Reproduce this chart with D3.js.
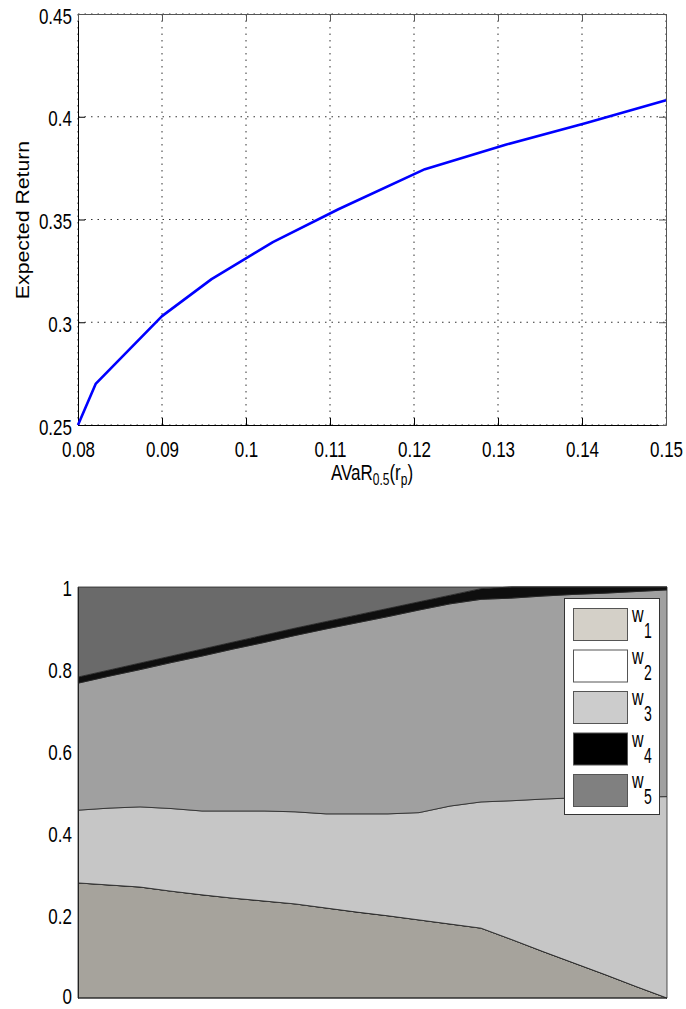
<!DOCTYPE html>
<html>
<head>
<meta charset="utf-8">
<script src="https://cdn.jsdelivr.net/npm/d3@7"></script>
<style>
body { margin: 0; background: #fff; }
text { font-family: "Liberation Sans", Arial, sans-serif; fill: #000; }
</style>
</head>
<body>
<script>

// efficient frontier
var avar   = [0.08, 0.0821, 0.09, 0.0959, 0.1032, 0.111, 0.1213, 0.131, 0.1405, 0.15];
var expRet = [0.25, 0.270, 0.303, 0.321, 0.339, 0.355, 0.3745, 0.3865, 0.397, 0.408];
var xTicks = [0.08, 0.09, 0.1, 0.11, 0.12, 0.13, 0.14, 0.15];
var yTicks = [0.25, 0.3, 0.35, 0.4, 0.45];

// portfolio weights along the frontier (stacked bottom -> top)
var port = [1, 2, 3, 4, 5, 6, 7, 8, 9, 10, 11, 12, 13, 14, 15, 16, 17, 18, 19, 20];
var w1 = [0.280, 0.275, 0.270, 0.260, 0.251, 0.243, 0.236, 0.229, 0.219, 0.209, 0.200, 0.190, 0.180, 0.170, 0.142, 0.113, 0.085, 0.057, 0.028, 0.000];
var w2 = [0, 0, 0, 0, 0, 0, 0, 0, 0, 0, 0, 0, 0, 0, 0, 0, 0, 0, 0, 0];
var w3 = [0.177, 0.187, 0.195, 0.201, 0.204, 0.212, 0.219, 0.224, 0.229, 0.239, 0.248, 0.261, 0.287, 0.307, 0.338, 0.371, 0.402, 0.431, 0.461, 0.490];
var w6 = [0.309, 0.321, 0.334, 0.355, 0.377, 0.394, 0.410, 0.429, 0.450, 0.465, 0.480, 0.493, 0.492, 0.493, 0.493, 0.494, 0.495, 0.497, 0.500, 0.503];
var w4 = [0.015, 0.015, 0.016, 0.016, 0.017, 0.017, 0.018, 0.018, 0.018, 0.019, 0.020, 0.020, 0.021, 0.026, 0.027, 0.022, 0.018, 0.015, 0.011, 0.007];
var w5 = [0.219, 0.202, 0.185, 0.168, 0.151, 0.134, 0.117, 0.100, 0.084, 0.068, 0.052, 0.036, 0.020, 0.004, 0, 0, 0, 0, 0, 0];
var wTicks = [0, 0.2, 0.4, 0.6, 0.8, 1];

var layerKeys   = ["w1", "w2", "w3", "w6", "w4", "w5"];
var layerColors = ["#a6a39c", "#ffffff", "#c6c6c6", "#a0a0a0", "#0e0e0e", "#6a6a6a"];

var legendNums   = ["1", "2", "3", "4", "5"];
var legendColors = ["#d4d0c8", "#ffffff", "#cccccc", "#000000", "#808080"];

var W = 686, H = 1009;
var sy = 1.35;   // text in the picture is stretched vertically
var fmt = function(d) { return String(+d.toFixed(2)); };

var svg = d3.select("body").append("svg")
	.attr("width", W)
	.attr("height", H);
svg.append("rect").attr("width", W).attr("height", H).attr("fill", "#fff");

// ---------- top chart ----------
var x = d3.scaleLinear().domain([0.08, 0.15]).range([78, 666]);
var y = d3.scaleLinear().domain([0.25, 0.45]).range([425, 14]);

var chartA = svg.append("g");

chartA.selectAll(".gx").data(xTicks).enter().append("line")
	.attr("x1", function(d) { return x(d); })
	.attr("x2", function(d) { return x(d); })
	.attr("y1", y(0.25)).attr("y2", y(0.45))
	.attr("stroke", "#333").attr("stroke-dasharray", "1.5,5");
chartA.selectAll(".gy").data(yTicks).enter().append("line")
	.attr("y1", function(d) { return y(d); })
	.attr("y2", function(d) { return y(d); })
	.attr("x1", x(0.08)).attr("x2", x(0.15))
	.attr("stroke", "#333").attr("stroke-dasharray", "1.5,5");

var gxB = chartA.append("g").attr("transform", "translate(0," + y(0.25) + ")")
	.call(d3.axisBottom(x).tickValues(xTicks).tickSizeInner(-7).tickSizeOuter(0).tickFormat(fmt));
var gyL = chartA.append("g").attr("transform", "translate(" + x(0.08) + ",0)")
	.call(d3.axisLeft(y).tickValues(yTicks).tickSizeInner(-7).tickSizeOuter(0).tickFormat(fmt));
chartA.append("g").attr("transform", "translate(0," + y(0.45) + ")")
	.call(d3.axisTop(x).tickValues(xTicks).tickSizeInner(-7).tickSizeOuter(0).tickFormat(""))
	.attr("color", "#555");
chartA.append("g").attr("transform", "translate(" + x(0.15) + ",0)")
	.call(d3.axisRight(y).tickValues(yTicks).tickSizeInner(-7).tickSizeOuter(0).tickFormat(""))
	.attr("color", "#555");

gxB.attr("color", "#000").attr("font-size", 17).attr("font-family", null);
gxB.selectAll(".tick text").attr("y", null).attr("dy", null)
	.attr("transform", "translate(0,32) scale(1," + sy + ")");
gyL.attr("color", "#000").attr("font-size", 17).attr("font-family", null);
gyL.selectAll(".tick text").attr("x", null).attr("dy", null)
	.attr("transform", "translate(-6,9) scale(1," + sy + ")");

var line = d3.line()
	.x(function(d, i) { return x(avar[i]); })
	.y(function(d) { return y(d); });
chartA.append("path").datum(expRet)
	.attr("d", line)
	.attr("fill", "none")
	.attr("stroke", "#0000ff")
	.attr("stroke-width", 2.6)
	.attr("stroke-linejoin", "round");

chartA.append("text")
	.attr("transform", "translate(29,220) scale(1,1.12) rotate(-90)")
	.attr("text-anchor", "middle")
	.attr("font-size", 19)
	.text("Expected Return");

var xl = chartA.append("text")
	.attr("transform", "translate(372,480) scale(1," + sy + ")")
	.attr("text-anchor", "middle")
	.attr("font-size", 17);
xl.append("tspan").text("AVaR");
xl.append("tspan").attr("font-size", 12).attr("dy", 4).text("0.5");
xl.append("tspan").attr("dy", -4).text("(r");
xl.append("tspan").attr("font-size", 12).attr("dy", 4).text("p");
xl.append("tspan").attr("dy", -4).text(")");

// ---------- bottom chart ----------
var xb = d3.scaleLinear().domain([1, 20]).range([78, 667]);
var yb = d3.scaleLinear().domain([0, 1]).range([998, 587]);

var weights = { w1: w1, w2: w2, w3: w3, w4: w4, w5: w5, w6: w6 };
var rows = port.map(function(p, i) {
	var r = { port: p };
	layerKeys.forEach(function(k) { r[k] = weights[k][i]; });
	return r;
});
var layers = d3.stack().keys(layerKeys)(rows);

var area = d3.area()
	.x(function(d) { return xb(d.data.port); })
	.y0(function(d) { return yb(d[0]); })
	.y1(function(d) { return yb(d[1]); });

var chartB = svg.append("g");
chartB.selectAll("path.layer").data(layers).enter().append("path")
	.attr("class", "layer")
	.attr("d", area)
	.attr("fill", function(d, i) { return layerColors[i]; })
	.attr("stroke", "#262626")
	.attr("stroke-width", 0.8);

var gyB = chartB.append("g").attr("transform", "translate(" + xb(1) + ",0)")
	.call(d3.axisLeft(yb).tickValues(wTicks).tickSize(0).tickFormat(fmt));
gyB.attr("color", "#222").attr("font-size", 17).attr("font-family", null);
gyB.selectAll(".tick text").attr("x", null).attr("dy", null).attr("fill", "#000")
	.attr("transform", function(d) { return "translate(-6," + (d === 0 ? 5 : 8) + ") scale(1," + sy + ")"; });
chartB.append("line")
	.attr("x1", xb(1)).attr("x2", xb(20))
	.attr("y1", yb(0)).attr("y2", yb(0))
	.attr("stroke", "#222");

// legend
var leg = chartB.append("g");
leg.append("rect")
	.attr("x", 564.5).attr("y", 598.5).attr("width", 95).attr("height", 216)
	.attr("fill", "#fff").attr("stroke", "#333");
var item = leg.selectAll(".item").data(legendNums).enter().append("g")
	.attr("transform", function(d, i) { return "translate(0," + (608 + i * 41.5) + ")"; });
item.append("rect")
	.attr("x", 573.5).attr("y", 0.5).attr("width", 54).attr("height", 32)
	.attr("fill", function(d, i) { return legendColors[i]; })
	.attr("stroke", "#555");
item.append("text")
	.attr("transform", "translate(632,14) scale(1," + sy + ")")
	.attr("font-size", 16)
	.text("w");
item.append("text")
	.attr("transform", "translate(644,30) scale(1,1.6)")
	.attr("font-size", 14)
	.text(function(d) { return d; });

</script>
</body>
</html>
